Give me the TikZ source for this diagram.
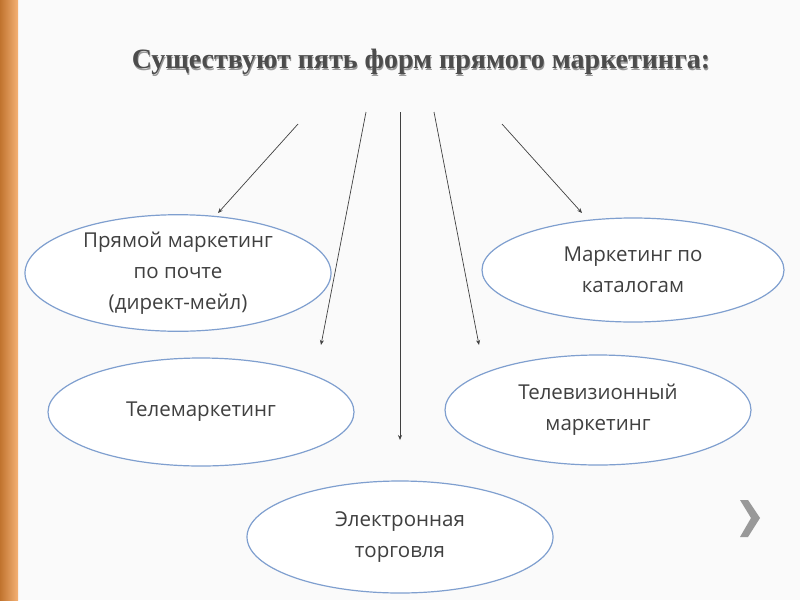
\documentclass[tikz,border=0pt]{standalone}
\usepackage{fontspec}
\setmainfont{Open Sans}
\newfontfamily\titlefont{Liberation Serif}
\usetikzlibrary{shapes.geometric,arrows.meta}
\definecolor{txt}{HTML}{404040}
\definecolor{edge}{HTML}{7F9FCF}
\definecolor{bar}{HTML}{F0903A}
\tikzset{
  oval/.style={ellipse,draw=edge,line width=1.2pt,fill=white,inner sep=0pt,text=txt,font=\fontsize{20.5}{31}\selectfont,align=center},
  arr/.style={draw=black!75,line width=0.7pt,-{Stealth[length=5pt,width=4pt]}}
}
\begin{document}
\begin{tikzpicture}[x=1pt,y=-1pt]
\useasboundingbox (0,0) rectangle (800,600);
\fill[white!96!gray] (0,0) rectangle (800,600);
\fill[left color=bar!80!black,right color=bar!70!white] (0,0) rectangle (18,600);
\node (t) [font=\titlefont\bfseries\fontsize{28}{32}\selectfont,text=black!70] at (421,62) {\makebox[0pt]{\raisebox{-1.5pt}[0pt][0pt]{\hspace*{1.5pt}\color{black!40}Существуют пять форм прямого маркетинга:}}\makebox[0pt]{Существуют пять форм прямого маркетинга:}};
\node (e1) [oval,minimum width=306,minimum height=110] at (178,273) {Прямой маркетинг\\по почте\\(директ-мейл)};
\node (e2) [oval,minimum width=302,minimum height=104] at (633,270) {Маркетинг по\\каталогам};
\node (e3) [oval,minimum width=306,minimum height=108] at (201,412) {Телемаркетинг};
\node (e4) [oval,minimum width=306,minimum height=110] at (598,410) {Телевизионный\\маркетинг};
\node (e5) [oval,minimum width=306,minimum height=112] at (400,537) {Электронная\\торговля};
\coordinate (s1) at (298,124); \coordinate (d1) at (218,213);
\coordinate (s2) at (366,112); \coordinate (d2) at (321,345);
\coordinate (s3) at (400,112); \coordinate (d3) at (400,440);
\coordinate (s4) at (434,112); \coordinate (d4) at (479,345);
\coordinate (s5) at (502,124); \coordinate (d5) at (582,213);
\foreach \i in {1,...,5} {\draw[arr] (s\i) -- (d\i);}
\fill[black!40] (740,500) -- (748,500) -- (760,518) -- (748,537) -- (740,537) -- (751,518) -- cycle;
\end{tikzpicture}
\end{document}
